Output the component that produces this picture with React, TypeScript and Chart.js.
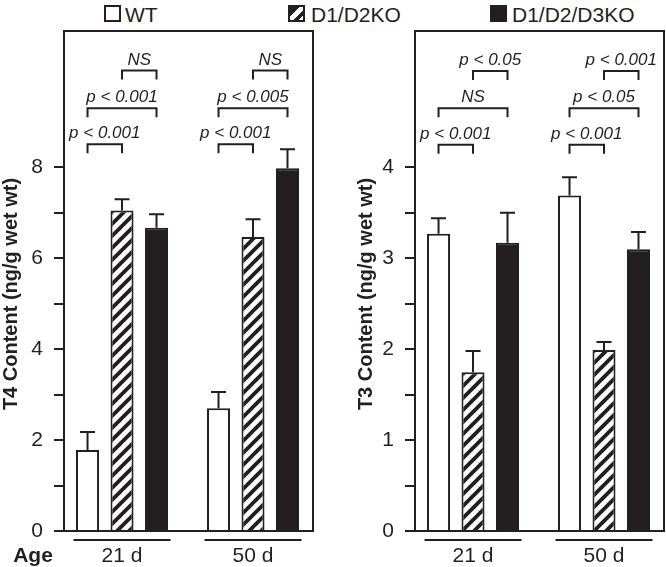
import React, { useEffect, useRef } from 'react';
import { Chart, registerables } from 'chart.js';

Chart.register(...registerables);

// ---------- data ----------
const ageLabels = ['21 d', '50 d'];
const seriesNames = ['WT', 'D1/D2KO', 'D1/D2/D3KO'];

const t4Wt = [1.78, 2.7];
const t4Ko12 = [7.05, 6.47];
const t4Ko123 = [6.67, 7.98];
const t4WtErr = [0.4, 0.36];
const t4Ko12Err = [0.25, 0.39];
const t4Ko123Err = [0.3, 0.42];
const t4TickLabels = [0, 2, 4, 6, 8];

const t3Wt = [3.27, 3.69];
const t3Ko12 = [1.745, 1.99];
const t3Ko123 = [3.17, 3.1];
const t3WtErr = [0.17, 0.2];
const t3Ko12Err = [0.235, 0.09];
const t3Ko123Err = [0.33, 0.19];
const t3TickLabels = [0, 1, 2, 3, 4];

// comparisons: [age group, series a, series b, level (axis units), label]
const t4Comparisons: [number, number, number, number, string][] = [
  [0, 0, 1, 8.51, 'p < 0.001'],
  [0, 0, 2, 9.3, 'p < 0.001'],
  [0, 1, 2, 10.13, 'NS'],
  [1, 0, 1, 8.51, 'p < 0.001'],
  [1, 0, 2, 9.3, 'p < 0.005'],
  [1, 1, 2, 10.13, 'NS'],
];
const t3Comparisons: [number, number, number, number, string][] = [
  [0, 0, 1, 4.25, 'p < 0.001'],
  [0, 0, 2, 4.65, 'NS'],
  [0, 1, 2, 5.06, 'p < 0.05'],
  [1, 0, 1, 4.25, 'p < 0.001'],
  [1, 0, 2, 4.65, 'p < 0.05'],
  [1, 1, 2, 5.06, 'p < 0.001'],
];

const INK = '#231f20';
const FONT = '"Liberation Sans", Arial, Helvetica, sans-serif';

function makeHatch(): CanvasPattern | string {
  const c = document.createElement('canvas');
  c.width = 12;
  c.height = 12;
  const g = c.getContext('2d');
  if (!g) return '#888';
  g.fillStyle = '#fff';
  g.fillRect(0, 0, 12, 12);
  g.strokeStyle = INK;
  g.lineWidth = 3.8;
  g.beginPath();
  g.moveTo(-3, 15);
  g.lineTo(15, -3);
  g.moveTo(-3, 3);
  g.lineTo(3, -3);
  g.moveTo(9, 15);
  g.lineTo(15, 9);
  g.stroke();
  const p = g.createPattern(c, 'repeat');
  return p || '#888';
}

interface PanelProps {
  values: number[][];
  errors: number[][];
  yMax: number;
  step: number;
  tickLabels: number[];
  title: string;
  comparisons: [number, number, number, number, string][];
  showAge: boolean;
  yWidth: number;
  padRight: number;
  titleX: number;
  left: number;
}

function Panel(props: PanelProps) {
  const ref = useRef<HTMLCanvasElement>(null);
  useEffect(() => {
    if (!ref.current) return;
    const hatch = makeHatch();
    const fills = ['#ffffff', hatch, INK];
    const tickMax = Math.max(...props.tickLabels);

    const annotate = {
      id: 'annotate',
      afterDatasetsDraw(chart: any) {
        const { ctx, chartArea: ca } = chart;
        const y = chart.scales.y;
        const x = chart.scales.x;
        ctx.save();
        ctx.strokeStyle = INK;
        ctx.fillStyle = INK;
        ctx.lineWidth = 2;
        ctx.lineCap = 'butt';
        // error bars
        props.values.forEach((vals, di) => {
          const meta = chart.getDatasetMeta(di);
          meta.data.forEach((bar: any, j: number) => {
            const topPx = y.getPixelForValue(vals[j] + props.errors[di][j]);
            ctx.beginPath();
            ctx.moveTo(bar.x, bar.y);
            ctx.lineTo(bar.x, topPx);
            ctx.moveTo(bar.x - 7.5, topPx);
            ctx.lineTo(bar.x + 7.5, topPx);
            ctx.stroke();
          });
        });
        // frame
        ctx.strokeRect(ca.left, ca.top, ca.right - ca.left, ca.bottom - ca.top);
        // y tick marks (major and minor) up to last labelled value
        y.ticks.forEach((t: any) => {
          if (t.value > tickMax + 1e-9) return;
          const py = Math.round(y.getPixelForValue(t.value));
          ctx.beginPath();
          ctx.moveTo(ca.left - 10, py);
          ctx.lineTo(ca.left, py);
          ctx.stroke();
        });
        // brackets
        ctx.font = `italic 17px ${FONT}`;
        ctx.textAlign = 'center';
        ctx.textBaseline = 'alphabetic';
        props.comparisons.forEach(([g, a, b, level, label]) => {
          const xa = chart.getDatasetMeta(a).data[g].x;
          const xb = chart.getDatasetMeta(b).data[g].x;
          const yy = y.getPixelForValue(level);
          ctx.beginPath();
          ctx.moveTo(xa, yy + 9);
          ctx.lineTo(xa, yy);
          ctx.lineTo(xb, yy);
          ctx.lineTo(xb, yy + 9);
          ctx.stroke();
          ctx.fillText(label, (xa + xb) / 2, yy - 6);
        });
        // group lines and age labels
        ctx.font = `21px ${FONT}`;
        ageLabels.forEach((lab, i) => {
          const cx = x.getPixelForValue(i + 1);
          ctx.beginPath();
          ctx.moveTo(cx - 48.5, ca.bottom + 9);
          ctx.lineTo(cx + 48.5, ca.bottom + 9);
          ctx.stroke();
          ctx.fillText(lab, cx, ca.bottom + 31);
        });
        if (props.showAge) {
          ctx.font = `bold 21px ${FONT}`;
          ctx.fillText('Age', 33, ca.bottom + 31);
        }
        // y title
        ctx.translate(props.titleX, 294);
        ctx.rotate(-Math.PI / 2);
        ctx.font = `bold 20px ${FONT}`;
        ctx.textBaseline = 'middle';
        ctx.fillText(props.title, 0, 0);
        ctx.restore();
      },
    };

    const chart = new Chart(ref.current, {
      type: 'bar',
      data: {
        datasets: props.values.map((vals, di) => ({
          label: seriesNames[di],
          data: vals.map((v, i) => ({ x: i + 1, y: v })),
          backgroundColor: fills[di] as any,
          borderColor: INK,
          borderWidth: 2,
          categoryPercentage: 0.79,
          barPercentage: 0.667,
        })),
      },
      options: {
        animation: false,
        responsive: false,
        devicePixelRatio: 1,
        layout: { padding: { top: 31, bottom: 36, left: 0, right: props.padRight } },
        plugins: { legend: { display: false }, tooltip: { enabled: false } },
        scales: {
          x: {
            type: 'linear',
            display: false,
            min: 0.557,
            max: 2.458,
            offset: false,
            afterBuildTicks: (s: any) => {
              s.ticks = ageLabels.map((_, i) => ({ value: i + 1 }));
            },
          },
          y: {
            type: 'linear',
            min: 0,
            max: props.yMax,
            afterFit: (s: any) => {
              s.width = props.yWidth;
            },
            border: { display: false },
            grid: { display: false },
            ticks: {
              stepSize: props.step,
              autoSkip: false,
              padding: 13,
              color: INK,
              font: { family: FONT, size: 21 },
              callback: (v: any) => (props.tickLabels.includes(Number(v)) ? String(v) : ''),
            },
          },
        },
      },
      plugins: [annotate],
    } as any);
    return () => chart.destroy();
  }, []);
  return (
    <canvas
      ref={ref}
      width={333}
      height={567}
      style={{ position: 'absolute', left: props.left, top: 0, width: 333, height: 567 }}
    />
  );
}

function LegendItem({ left, textLeft, fill, label }: { left: number; textLeft: number; fill: string; label: string }) {
  return (
    <>
      <div
        style={{
          position: 'absolute',
          left,
          top: 5,
          width: 17,
          height: 17,
          boxSizing: 'border-box',
          border: `2px solid ${INK}`,
          background: fill,
        }}
      />
      <div
        style={{
          position: 'absolute',
          left: textLeft,
          top: 3.5,
          fontFamily: FONT,
          fontSize: 21,
          lineHeight: '21px',
          color: INK,
          whiteSpace: 'nowrap',
        }}
      >
        {label}
      </div>
    </>
  );
}

export default function App() {
  return (
    <div style={{ position: 'absolute', left: 0, top: 0, width: 666, height: 567, background: '#fff', overflow: 'hidden' }}>
      <LegendItem left={104} textLeft={125} fill="#fff" label={seriesNames[0]} />
      <LegendItem
        left={288}
        textLeft={311}
        fill={`linear-gradient(135deg, ${INK} 0 38%, #fff 38% 62%, ${INK} 62% 82%, #fff 82%)`}
        label={seriesNames[1]}
      />
      <LegendItem left={490} textLeft={512} fill={INK} label={seriesNames[2]} />
      <Panel
        values={[t4Wt, t4Ko12, t4Ko123]}
        errors={[t4WtErr, t4Ko12Err, t4Ko123Err]}
        yMax={11}
        step={1}
        tickLabels={t4TickLabels}
        title="T4 Content (ng/g wet wt)"
        comparisons={t4Comparisons}
        showAge={true}
        yWidth={64}
        padRight={20}
        titleX={11}
        left={0}
      />
      <Panel
        values={[t3Wt, t3Ko12, t3Ko123]}
        errors={[t3WtErr, t3Ko12Err, t3Ko123Err]}
        yMax={5.5}
        step={0.5}
        tickLabels={t3TickLabels}
        title="T3 Content (ng/g wet wt)"
        comparisons={t3Comparisons}
        showAge={false}
        yWidth={82}
        padRight={2}
        titleX={33}
        left={333}
      />
    </div>
  );
}
